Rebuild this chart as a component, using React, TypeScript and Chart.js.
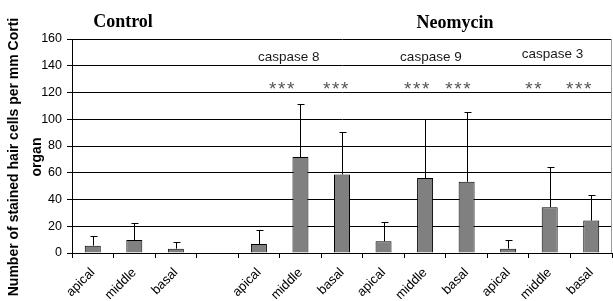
import React, { useEffect, useRef } from 'react';
import { Chart, registerables } from 'chart.js';

Chart.register(...registerables);

const categories = ['apical', 'middle', 'basal', '', 'apical', 'middle', 'basal', 'apical', 'middle', 'basal', 'apical', 'middle', 'basal'];
const means = [5.5, 9.75, 3.25, null, 6.75, 71.75, 58.75, 8.75, 56, 53.25, 3.25, 34.25, 24.25];
const sds = [7.25, 13, 5, null, 10.5, 39.75, 31.75, 14.25, 44, 52.25, 6.75, 30, 19];
const yMin = 0;
const yMax = 160;
const yStep = 20;

const groupLabels = ['caspase 8', 'caspase 9', 'caspase 3'];
const groupLabelIdx = [4.72, 8.14, 11.07];
const groupLabelVal = [146.5, 146.5, 148.8];

const starLabels = ['***', '***', '***', '***', '**', '***'];
const starIdx = [4.55, 5.85, 7.8, 8.79, 10.61, 11.7];
const starVal = 125.6;

const panelTitles = ['Control', 'Neomycin'];
const yTitleLines = ['Number of stained hair cells per mm Corti', 'organ'];

const SANS = '"Liberation Sans", Arial, sans-serif';
const SERIF = '"Liberation Serif", "Times New Roman", serif';

const decorPlugin = {
  id: 'decor',
  afterDatasetsDraw(chart: any) {
    const ctx = chart.ctx;
    const xs = chart.scales.x;
    const ys = chart.scales.y;
    const area = chart.chartArea;
    ctx.save();
    // error bars
    const meta = chart.getDatasetMeta(0);
    ctx.strokeStyle = '#000';
    ctx.lineWidth = 1;
    meta.data.forEach((bar: any, i: number) => {
      const m = means[i];
      const s = sds[i];
      if (m == null || s == null) return;
      const x = Math.round(bar.x) + 0.5;
      const yTop = ys.getPixelForValue(m);
      const yErr = Math.round(ys.getPixelForValue(m + s)) + 0.5;
      ctx.beginPath();
      ctx.moveTo(x, yTop);
      ctx.lineTo(x, yErr);
      ctx.moveTo(x - 3, yErr);
      ctx.lineTo(x + 4, yErr);
      ctx.stroke();
    });
    // right border
    ctx.strokeStyle = '#9a9a9a';
    ctx.beginPath();
    ctx.moveTo(Math.round(area.right) - 0.5, area.top);
    ctx.lineTo(Math.round(area.right) - 0.5, area.bottom);
    ctx.stroke();

    // group labels
    ctx.fillStyle = '#1a1a1a';
    ctx.font = `13.5px ${SANS}`;
    ctx.textAlign = 'center';
    ctx.textBaseline = 'middle';
    groupLabels.forEach((t, i) => {
      ctx.fillText(t, xs.getPixelForValue(groupLabelIdx[i]), ys.getPixelForValue(groupLabelVal[i]));
    });
    // stars
    ctx.fillStyle = '#555';
    ctx.font = `19px ${SANS}`;
    ctx.textBaseline = 'alphabetic';
    starLabels.forEach((t, i) => {
      const cx = xs.getPixelForValue(starIdx[i]);
      const cy = ys.getPixelForValue(starVal) + 10;
      const n = t.length;
      for (let k = 0; k < n; k++) {
        ctx.fillText('*', cx + (k - (n - 1) / 2) * 9, cy);
      }
    });

    // panel titles
    ctx.fillStyle = '#000';
    ctx.font = `bold 18px ${SERIF}`;
    ctx.textBaseline = 'alphabetic';
    ctx.fillText(panelTitles[0], 123, 27);
    ctx.fillText(panelTitles[1], 455, 28);

    // y title
    ctx.font = `bold 14px ${SANS}`;
    ctx.textBaseline = 'middle';
    const cy = 157;
    [14, 37].forEach((x, i) => {
      ctx.save();
      ctx.translate(x, cy);
      ctx.rotate(-Math.PI / 2);
      ctx.fillText(yTitleLines[i], 0, 0);
      ctx.restore();
    });
    ctx.restore();
  },
};

export default function App() {
  const ref = useRef<HTMLCanvasElement>(null);
  useEffect(() => {
    if (!ref.current) return;
    const chart = new Chart(ref.current, {
      type: 'bar',
      data: {
        labels: categories,
        datasets: [
          {
            data: means as any,
            backgroundColor: '#808080',
            borderColor: '#000',
            borderWidth: 1,
            barPercentage: 0.385,
            categoryPercentage: 1,
          },
        ],
      },
      options: {
        animation: false,
        responsive: false,
        devicePixelRatio: 1,
        layout: { padding: { top: 39, right: 1, left: 0, bottom: 0 } },
        plugins: { legend: { display: false }, tooltip: { enabled: false }, title: { display: false } },
        scales: {
          x: {
            offset: true,
            grid: { display: true, drawOnChartArea: false, drawTicks: true, tickLength: 5, color: '#000', offset: true },
            border: { display: true, color: '#000', width: 1 },
            ticks: {
              autoSkip: false,
              maxRotation: 45,
              minRotation: 45,
              padding: 7,
              color: '#000',
              font: { family: SANS, size: 13 },
            },
            afterFit: (s: any) => {
              s.height = 48;
            },
          },
          y: {
            min: yMin,
            max: yMax,
            grid: { color: '#000', lineWidth: 1, drawTicks: true, tickLength: 5 },
            border: { display: true, color: '#000', width: 1 },
            ticks: {
              stepSize: yStep,
              padding: 5,
              color: '#000',
              font: { family: SANS, size: 12.5 },
            },
            afterFit: (s: any) => {
              s.width = 72;
            },
          },
        },
      },
      plugins: [decorPlugin],
    });
    return () => chart.destroy();
  }, []);
  return (
    <div style={{ position: 'fixed', left: 0, top: 0, width: 613, height: 301, background: '#fff' }}>
      <canvas ref={ref} width={613} height={301} style={{ display: 'block' }} />
    </div>
  );
}
